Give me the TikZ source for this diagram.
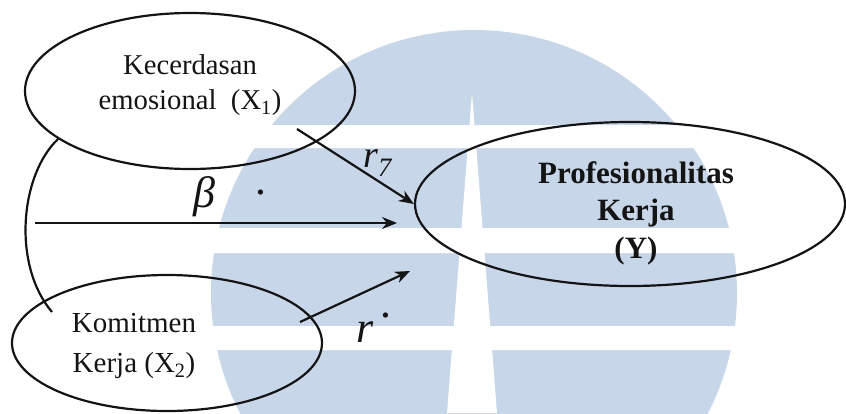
\documentclass[tikz,border=0pt]{standalone}
\usepackage{fontspec}
\setmainfont{Liberation Serif}
\usetikzlibrary{arrows.meta,shapes.geometric}
\definecolor{logoblue}{RGB}{200,214,233}
\definecolor{ink}{RGB}{20,20,20}
\tikzstyle{var}=[draw=ink,ellipse,line width=2.2pt,inner sep=0pt]
\tikzstyle{vartext}=[align=center,text=ink,inner sep=0pt,font=\fontsize{28.7}{35}\selectfont]
\tikzstyle{hand}=[text=ink,inner sep=0pt,font=\itshape\fontsize{44}{44}\selectfont]
\tikzstyle{link}=[draw=ink,line width=2.2pt,-{Stealth[length=15pt,width=12pt]}]

\begin{document}
\begin{tikzpicture}[x=1pt,y=-1pt]
  \useasboundingbox (0,0) rectangle (846,413);
  % logo in the background
  \begin{scope}
    \clip (0,0) rectangle (846,413);
    \fill[logoblue] (474,293) circle (263pt);
    \fill[white] (0,125) rectangle (846,148)
                 (0,228) rectangle (846,253)
                 (0,326) rectangle (846,350);
    \fill[white] (472,93) -- (447,413) -- (497,413) -- cycle;
  \end{scope}

  \node[var,minimum width=330pt,minimum height=156pt] (emo) at (190,91) {};
  \node[vartext] (emotxt) at (190,85) {Kecerdasan\\emosional\ \ (X\textsubscript{1})};
  \node[var,minimum width=310pt,minimum height=136pt] (kom) at (167,343) {};
  \node[vartext,font=\fontsize{29}{40}\selectfont] (komtxt) at (134,346) {Komitmen\\Kerja (X\textsubscript{2})};
  \node[var,minimum width=430pt,minimum height=164pt] (prof) at (630,204) {};
  \node[vartext,font=\bfseries\fontsize{31}{37.5}\selectfont] (proftxt) at (636,213) {Profesionalitas\\Kerja\\(Y)};

  \coordinate (emoout) at (297,129);
  \coordinate (left)   at (35,223);
  \coordinate (mid)    at (397,223);
  \coordinate (komout) at (300,322);
  \coordinate (komend) at (410,271);
  \coordinate (komtop) at (52,312);

  % correlation between X1 and X2
  \draw[ink,line width=2.2pt] (emo.200) .. controls (20,175) and (12,265) .. (komtop);

  \draw[link] (emoout) -- node[hand,font=\itshape\fontsize{38}{38}\selectfont,pos=.69,shift={(0,-18)}] {r\textsubscript{7}} (prof.west);
  \draw[link] (left) -- node[hand,pos=.54,shift={(0,-26)}] {β\hspace{41pt}\raisebox{13pt}{.}} (mid);
  \draw[link] (komout) -- node[hand,pos=.68,shift={(0,40)}] {r\hspace{8pt}\raisebox{25pt}{.}} (komend);
\end{tikzpicture}
\end{document}
